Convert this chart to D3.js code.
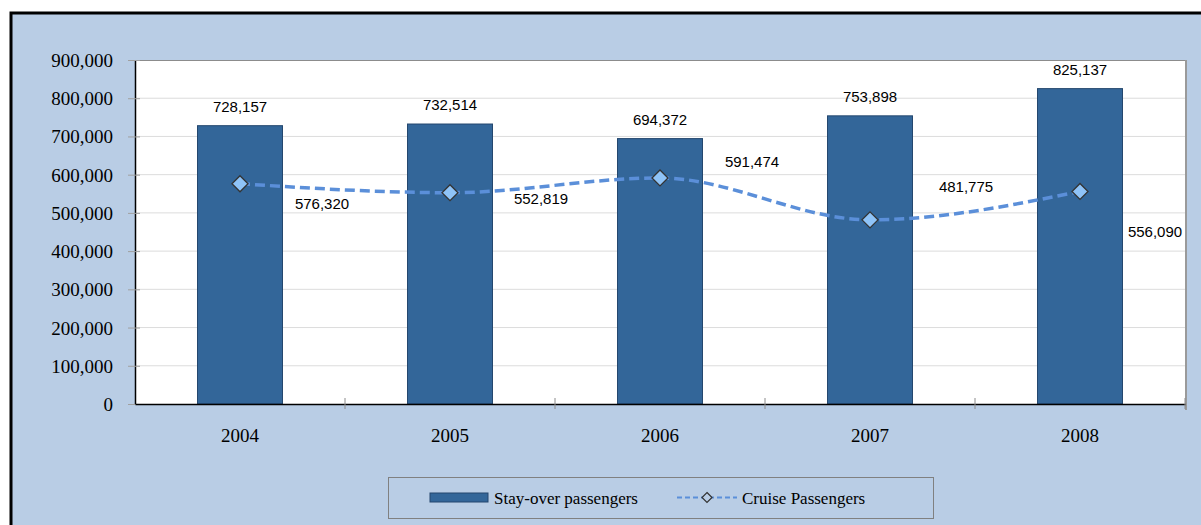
<!DOCTYPE html>
<html>
<head>
<meta charset="utf-8">
<script src="https://cdn.jsdelivr.net/npm/d3@7"></script>
<style>
html,body{margin:0;padding:0;background:#fff;}
svg{display:block;}
</style>
</head>
<body>
<svg id="chart" width="1201" height="525"></svg>
<script>
const years = ["2004","2005","2006","2007","2008"];
const stayOver = [728157, 732514, 694372, 753898, 825137];
const cruise = [576320, 552819, 591474, 481775, 556090];
const yTicks = [0,100000,200000,300000,400000,500000,600000,700000,800000,900000];
const seriesNames = ["Stay-over passengers","Cruise Passengers"];
// label offsets (px) for the cruise value labels, relative to each point (text baseline)
const cruiseLabelOffsets = [[82,25],[91,11],[92,-11],[96,-28],[75,46]];

const svg = d3.select("#chart");
const W = 1201, H = 525;
const m = {left:135, top:60, right:1185, bottom:404};
const serif = "Liberation Serif, Times New Roman, serif";
const sans = "Liberation Sans, Arial, sans-serif";

// outer frame
svg.append("rect").attr("x",0).attr("y",0).attr("width",W).attr("height",H).attr("fill","#fff");
svg.append("rect").attr("x",11).attr("y",13).attr("width",W+20).attr("height",H+20)
  .attr("fill","#b9cde5").attr("stroke","#000").attr("stroke-width",3);

// plot area
svg.append("rect").attr("x",m.left).attr("y",m.top).attr("width",m.right-m.left).attr("height",m.bottom-m.top)
  .attr("fill","#fff");

const x = d3.scaleBand().domain(years).range([m.left,m.right]).paddingInner(0).paddingOuter(0);
const y = d3.scaleLinear().domain([0,900000]).range([m.bottom,m.top]);
const barW = 85;

// gridlines
svg.append("g").selectAll("line").data(yTicks.filter(d=>d>0 && d<900000)).join("line")
  .attr("x1",m.left).attr("x2",m.right).attr("y1",d=>y(d)).attr("y2",d=>y(d))
  .attr("stroke","#dcdcdc").attr("stroke-width",1);

// plot border top/right
svg.append("line").attr("x1",m.left).attr("x2",m.right).attr("y1",m.top+0.5).attr("y2",m.top+0.5)
  .attr("stroke","#8c8c8c").attr("stroke-width",1);
svg.append("line").attr("x1",m.right+1).attr("x2",m.right+1).attr("y1",m.top).attr("y2",m.bottom+6)
  .attr("stroke","#9a9a9a").attr("stroke-width",2);

// bars
svg.append("g").selectAll("rect").data(years).join("rect")
  .attr("x",(d)=>x(d)+x.bandwidth()/2-barW/2)
  .attr("y",(d,i)=>y(stayOver[i]))
  .attr("width",barW)
  .attr("height",(d,i)=>y(0)-y(stayOver[i]))
  .attr("fill","#336699").attr("stroke","#24476e").attr("stroke-width",1);

// bar labels
const fmt = d3.format(",");
svg.append("g").selectAll("text").data(years).join("text")
  .attr("x",d=>x(d)+x.bandwidth()/2)
  .attr("y",(d,i)=>y(stayOver[i])-14)
  .attr("text-anchor","middle")
  .attr("font-family",sans).attr("font-size",15).attr("fill","#000")
  .text((d,i)=>fmt(stayOver[i]));

// y axis
const yAxis = d3.axisLeft(y).tickValues(yTicks).tickFormat(fmt).tickSize(0);
const gy = svg.append("g").attr("transform",`translate(${m.left},0)`).call(yAxis);
gy.select(".domain").attr("stroke","#000").attr("stroke-width",1.5);
gy.selectAll(".tick text").attr("x",-22).attr("dy","0.34em").attr("font-family",serif)
  .attr("font-size",19).attr("fill","#000");
gy.selectAll(".tick").append("line").attr("x1",-7).attr("x2",5).attr("stroke","#a0a0a0").attr("stroke-width",1);

// x axis
const xAxis = d3.axisBottom(x).tickSize(0);
const gx = svg.append("g").attr("transform",`translate(0,${m.bottom})`).call(xAxis);
gx.select(".domain").attr("stroke","#000").attr("stroke-width",1.5);
gx.selectAll(".tick text").attr("y",25).attr("font-family",serif)
  .attr("font-size",19).attr("fill","#000");
svg.append("g").selectAll("line").data(years).join("line")
  .attr("x1",(d,i)=>m.left+x.bandwidth()*(i+1)).attr("x2",(d,i)=>m.left+x.bandwidth()*(i+1))
  .attr("y1",m.bottom-6).attr("y2",m.bottom+5)
  .attr("stroke","#8c8c8c").attr("stroke-width",1);

// cruise line
const pts = years.map((d,i)=>[x(d)+x.bandwidth()/2, y(cruise[i])]);
const line = d3.line().curve(d3.curveMonotoneX);
svg.append("path").attr("d",line(pts)).attr("fill","none")
  .attr("stroke","#5b8fd9").attr("stroke-width",3.5).attr("stroke-dasharray","10,5");

// markers
svg.append("g").selectAll("path").data(pts).join("path")
  .attr("transform",d=>`translate(${d[0]},${d[1]})`)
  .attr("d", "M0,-8L8,0L0,8L-8,0Z")
  .attr("fill","#8fc3f7").attr("stroke","#333").attr("stroke-width",1.3);

// cruise labels
svg.append("g").selectAll("text").data(pts).join("text")
  .attr("x",(d,i)=>d[0]+cruiseLabelOffsets[i][0])
  .attr("y",(d,i)=>d[1]+cruiseLabelOffsets[i][1])
  .attr("text-anchor","middle")
  .attr("font-family",sans).attr("font-size",15).attr("fill","#000")
  .text((d,i)=>fmt(cruise[i]));

// legend
const lg = svg.append("g");
lg.append("rect").attr("x",388.5).attr("y",477.5).attr("width",545).attr("height",41)
  .attr("fill","#b9cde5").attr("stroke","#808080").attr("stroke-width",1);
lg.append("rect").attr("x",430).attr("y",493).attr("width",58).attr("height",9)
  .attr("fill","#336699").attr("stroke","#24476e").attr("stroke-width",1);
lg.append("text").attr("x",494).attr("y",504).attr("font-family",serif)
  .attr("font-size",17).attr("fill","#000").text(seriesNames[0]);
lg.append("line").attr("x1",677).attr("x2",737).attr("y1",497.5).attr("y2",497.5)
  .attr("stroke","#5b8fd9").attr("stroke-width",2).attr("stroke-dasharray","5,3");
lg.append("path").attr("transform","translate(707,497.5)").attr("d","M0,-5L5,0L0,5L-5,0Z")
  .attr("fill","#b9cde5").attr("stroke","#333").attr("stroke-width",1.2);
lg.append("text").attr("x",742).attr("y",504).attr("font-family",serif)
  .attr("font-size",17).attr("fill","#000").text(seriesNames[1]);
</script>
</body>
</html>
